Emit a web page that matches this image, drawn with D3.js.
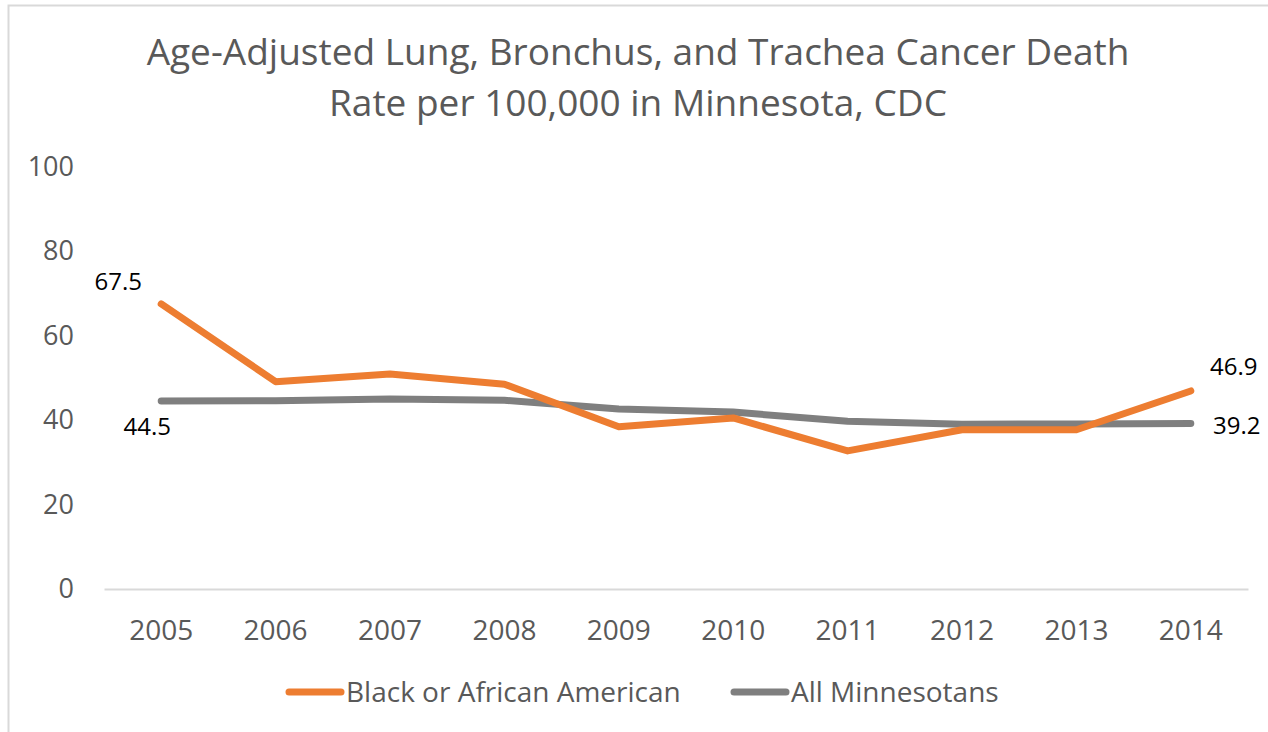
<!DOCTYPE html>
<html>
<head>
<meta charset="utf-8">
<style>
    body { margin: 0; background: #fff; }
    text { font-family: "Open Sans", sans-serif; }
</style>
</head>
<body>
<svg id="chart" width="1268" height="732"></svg>
<script src="https://cdn.jsdelivr.net/npm/d3@7"></script>
<script>
    // data
    const years = ["2005", "2006", "2007", "2008", "2009", "2010", "2011", "2012", "2013", "2014"]
    const black = [67.5, 49.1, 50.9, 48.5, 38.4, 40.5, 32.7, 37.7, 37.7, 46.9]
    const allMn = [44.5, 44.6, 45.0, 44.7, 42.6, 41.9, 39.7, 39.0, 39.1, 39.2]
    const yTicks = [0, 20, 40, 60, 80, 100]
    const seriesNames = ["Black or African American", "All Minnesotans"]
    const titleLines = ["Age-Adjusted Lung, Bronchus, and Trachea Cancer Death", "Rate per 100,000 in Minnesota, CDC"]

    const orange = "#ED7D31", grey = "#7F7F7F", textGrey = "#595959"

    let svg = d3.select("#chart")

    // chart frame (only top and left edges show in the picture)
    svg.append("rect")
        .attr("x", 8.5).attr("y", 5.5)
        .attr("width", 1300).attr("height", 800)
        .attr("fill", "none")
        .attr("stroke", "#d9d9d9")
        .attr("stroke-width", 2)

    // title
    svg.append("text")
        .attr("x", 638).attr("y", 52)
        .attr("text-anchor", "middle")
        .attr("fill", textGrey)
        .style("font-size", "37px")
        .selectAll("tspan")
        .data(titleLines)
        .join("tspan")
        .attr("x", 638)
        .attr("dy", (d, i) => i == 0 ? "0.35em" : "51px")
        .text(d => d)

    let x = d3.scaleBand().domain(years).range([104, 1248])
    let y = d3.scaleLinear().domain([0, 100]).range([589, 166.7])

    // x axis: a plain light line with year labels
    let xAxis = d3.axisBottom(x).tickSize(0).tickPadding(31)
    let gx = svg.append("g").attr("transform", "translate(0," + y(0) + ")").call(xAxis)
    gx.select(".domain").attr("stroke", "#d9d9d9").attr("stroke-width", 2)
    gx.selectAll("text").attr("fill", textGrey).style("font-size", "28px")
        .style("font-family", "Open Sans, sans-serif")

    // y axis: labels only
    let yAxis = d3.axisLeft(y).tickValues(yTicks).tickSize(0).tickPadding(0)
    let gy = svg.append("g").attr("transform", "translate(74,0)").call(yAxis)
    gy.select(".domain").remove()
    gy.selectAll("text").attr("fill", textGrey).style("font-size", "27px")
        .style("font-family", "Open Sans, sans-serif")

    let cx = d => x(d) + x.bandwidth() / 2
    let line = d3.line().x((d, i) => cx(years[i])).y(d => y(d))

    // grey drawn first, orange over it
    let series = [
        { name: seriesNames[1], values: allMn, color: grey },
        { name: seriesNames[0], values: black, color: orange }
    ]
    svg.selectAll("path.series")
        .data(series)
        .join("path")
        .attr("class", "series")
        .attr("d", d => line(d.values))
        .attr("fill", "none")
        .attr("stroke", d => d.color)
        .attr("stroke-width", 7)
        .attr("stroke-linecap", "round")
        .attr("stroke-linejoin", "round")

    // data labels at first and last points
    let last = years.length - 1
    let labels = [
        { v: black[0], xp: cx(years[0]) - 43, yp: y(black[0]) - 22 },
        { v: allMn[0], xp: cx(years[0]) - 14, yp: y(allMn[0]) + 26 },
        { v: black[last], xp: cx(years[last]) + 43, yp: y(black[last]) - 24 },
        { v: allMn[last], xp: cx(years[last]) + 46, yp: y(allMn[last]) + 2 }
    ]
    svg.selectAll("text.dlabel")
        .data(labels)
        .join("text")
        .attr("class", "dlabel")
        .attr("x", d => d.xp)
        .attr("y", d => d.yp)
        .attr("dy", "0.35em")
        .attr("text-anchor", "middle")
        .attr("fill", "#000")
        .style("font-size", "24px")
        .text(d => d.v.toFixed(1))

    // legend
    let legend = svg.append("g").attr("transform", "translate(0,692)")
    let legendItems = [
        { name: seriesNames[0], color: orange, x0: 289 },
        { name: seriesNames[1], color: grey, x0: 734 }
    ]
    let li = legend.selectAll("g").data(legendItems).join("g")
        .attr("transform", d => "translate(" + d.x0 + ",0)")
    li.append("line")
        .attr("x1", 0).attr("x2", 52)
        .attr("stroke", d => d.color)
        .attr("stroke-width", 7)
        .attr("stroke-linecap", "round")
    li.append("text")
        .attr("x", 57)
        .attr("dy", "0.35em")
        .attr("fill", textGrey)
        .style("font-size", "28px")
        .text(d => d.name)
</script>
</body>
</html>
